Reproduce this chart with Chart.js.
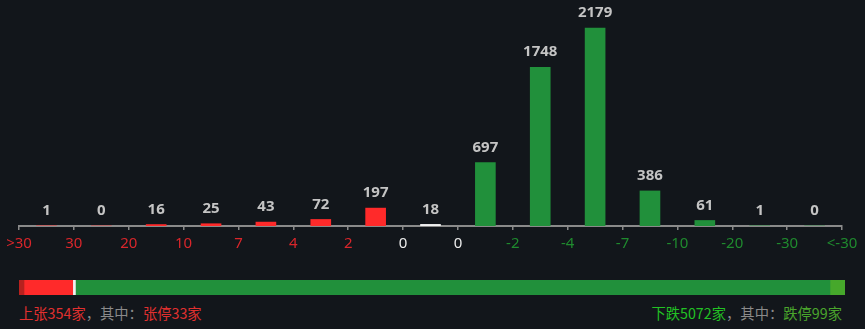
<!DOCTYPE html>
<html>
<head>
<meta charset="utf-8">
<script src="https://cdn.jsdelivr.net/npm/chart.js@4/dist/chart.umd.min.js"></script>
<style>
  html, body { margin: 0; padding: 0; background: #12161b; }
  #wrap { position: relative; width: 865px; height: 329px; overflow: hidden; }
  #mainBox { position: absolute; left: 0; top: 0; width: 865px; height: 260px; }
  #stripBox { position: absolute; left: 0; top: 277px; width: 865px; height: 21px; }
  .foot { position: absolute; top: 303px; font: 14.3px "Noto Sans CJK SC", sans-serif; line-height: 20px; white-space: nowrap; }
  #footL { left: 19px; }
  #footR { right: 23px; }
  .up { color: #e0302f; }
  .down { color: #22c124; }
  .dn2 { color: #4aa52c; }
  .mid { color: #8a8a8a; }
</style>
</head>
<body>
<div id="wrap">
  <div id="mainBox"><canvas id="distChart"></canvas></div>
  <div id="stripBox"><canvas id="stripChart"></canvas></div>
  <div class="foot" id="footL"><span class="up">上张354家</span><span class="mid">，其中：</span><span class="up">张停33家</span></div>
  <div class="foot" id="footR"><span class="down">下跌5072家</span><span class="mid">，其中：</span><span class="dn2">跌停99家</span></div>
</div>
<script>
'use strict';

// ---- data ----
const tickLabels = ['>30', '30', '20', '10', '7', '4', '2', '0', '0', '-2', '-4', '-7', '-10', '-20', '-30', '<-30'];
const bucketCounts = [1, 0, 16, 25, 43, 72, 197, 18, 697, 1748, 2179, 386, 61, 1, 0];
const limitUp = 33;
const upOther = 321;
const flat = 18;
const downOther = 4973;
const limitDown = 99;

const RED = '#ff2a2a';
const WHITE = '#f0f0f0';
const GREEN = '#21903b';
const BG = '#12161b';

function barColor(i) {
  if (i < 7) return RED;
  if (i === 7) return WHITE;
  return GREEN;
}

function tickColor(i) {
  if (i < 7) return '#d9262b';
  if (i < 9) return '#ececec';
  return '#1f8a2e';
}

// value labels above bars
const valueLabels = {
  id: 'valueLabels',
  afterDatasetsDraw(chart) {
    const ctx = chart.ctx;
    const meta = chart.getDatasetMeta(0);
    ctx.save();
    ctx.font = 'bold 15px "Noto Sans", sans-serif';
    ctx.fillStyle = '#c4c4c4';
    ctx.textAlign = 'center';
    ctx.textBaseline = 'middle';
    meta.data.forEach((bar, i) => {
      ctx.fillText(String(bucketCounts[i]), bar.x, bar.y - 15);
    });
    ctx.restore();
  }
};

new Chart(document.getElementById('distChart'), {
  type: 'bar',
  data: {
    datasets: [{
      data: bucketCounts.map((v, i) => ({ x: i + 0.5, y: v })),
      backgroundColor: bucketCounts.map((v, i) => barColor(i)),
      barThickness: 20,
      borderWidth: 0,
    }]
  },
  options: {
    responsive: true,
    maintainAspectRatio: false,
    animation: false,
    layout: { padding: { left: 19, right: 23, top: 8, bottom: 0 } },
    plugins: { legend: { display: false }, tooltip: { enabled: false } },
    scales: {
      x: {
        type: 'linear',
        min: 0,
        max: 15,
        offset: false,
        afterFit: scale => { scale.height = 34; },
        ticks: {
          stepSize: 1,
          autoSkip: false,
          maxRotation: 0,
          padding: 5,
          color: c => tickColor(c.index),
          font: { family: '"Noto Sans", sans-serif', size: 15 },
          callback: (v) => tickLabels[v],
        },
        grid: { offset: false, drawOnChartArea: false, drawTicks: true, tickLength: 4, color: '#8a8a8a', lineWidth: 1.5 },
        border: { color: '#8a8a8a', width: 2 },
      },
      y: { display: false, min: 0, max: 2400 }
    }
  },
  plugins: [valueLabels]
});

// ---- up / flat / down strip ----
const stripParts = [
  { v: limitUp, c: '#b8211e' },
  { v: upOther, c: RED },
  { v: flat, c: WHITE },
  { v: downOther, c: GREEN },
  { v: limitDown, c: '#46a82b' },
];

new Chart(document.getElementById('stripChart'), {
  type: 'bar',
  data: {
    labels: [''],
    datasets: stripParts.map(p => ({
      data: [p.v],
      backgroundColor: p.c,
      borderColor: BG,
      borderWidth: 0,
      barPercentage: 1,
      categoryPercentage: 1,
    }))
  },
  options: {
    indexAxis: 'y',
    responsive: true,
    maintainAspectRatio: false,
    animation: false,
    layout: { padding: { left: 19, right: 20, top: 3, bottom: 3 } },
    plugins: { legend: { display: false }, tooltip: { enabled: false } },
    scales: {
      x: { display: false, stacked: true, min: 0, max: limitUp + upOther + flat + downOther + limitDown },
      y: { display: false, stacked: true }
    }
  }
});
</script>
</body>
</html>
